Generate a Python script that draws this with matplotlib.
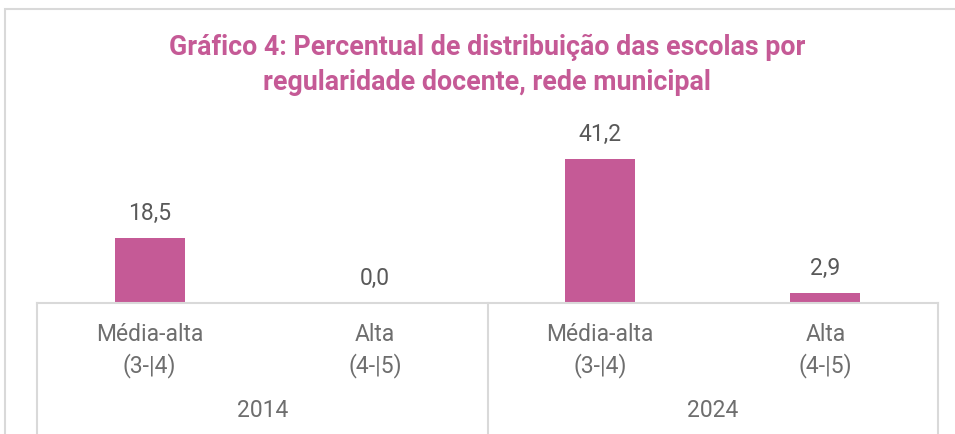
import matplotlib.pyplot as plt
from matplotlib.patches import Rectangle

categorias = ["Média-alta\n(3-|4)", "Alta\n(4-|5)", "Média-alta\n(3-|4)", "Alta\n(4-|5)"]
anos = ["2014", "2024"]
valores = [18.5, 0.0, 41.2, 2.9]
rotulos = ["18,5", "0,0", "41,2", "2,9"]

cor_barra = "#C55A96"
cor_texto = "#6E6E6E"
cor_linha = "#D9D9D9"

fig = plt.figure(figsize=(9.55, 4.35), dpi=100)

# moldura do gráfico
fig.patches.append(Rectangle((5 / 955, -0.1), 1.2, (435 - 10) / 435 + 0.1,
                             transform=fig.transFigure, fill=False,
                             edgecolor=cor_linha, linewidth=1.5))

fig.text(487 / 955, 1 - 65 / 435,
         "Gráfico 4: Percentual de distribuição das escolas por\nregularidade docente, rede municipal",
         ha="center", va="center", color=cor_barra, fontsize=19.3, fontweight="bold",
         family=["Liberation Sans Narrow", "Roboto"], linespacing=1.35)

ax = fig.add_axes([37 / 955, (435 - 304) / 435, (938 - 37) / 955, 175 / 435])
x = list(range(len(valores)))
ax.bar(x, valores, width=0.31, color=cor_barra)
ax.set_xlim(-0.5, 3.5)
ax.set_ylim(0, 50)

for xi, v, r in zip(x, valores, rotulos):
    ax.annotate(r, (xi, v), xytext=(0, 10), textcoords="offset points",
                ha="center", va="bottom", fontsize=16.5, color="#595959", family="Roboto")

for s in ["top", "right", "left"]:
    ax.spines[s].set_visible(False)
ax.spines["bottom"].set_color(cor_linha)
ax.spines["bottom"].set_linewidth(1.5)
ax.set_yticks([])
ax.set_xticks(x)
ax.set_xticklabels(categorias, fontsize=16.5, color=cor_texto, family="Roboto", linespacing=1.35)
ax.tick_params(axis="x", length=0, pad=14)

# separadores dos grupos
for xs in [-0.5, 1.5, 3.5]:
    ax.plot([xs, xs], [0, -0.75], transform=ax.get_xaxis_transform(),
            color=cor_linha, linewidth=1.5, clip_on=False)

for i, ano in enumerate(anos):
    ax.text(0.5 + 2 * i, -0.606, ano, transform=ax.get_xaxis_transform(),
            ha="center", va="center", fontsize=16.5, color=cor_texto, family="Roboto")

fig.savefig("out.png", dpi=100)
